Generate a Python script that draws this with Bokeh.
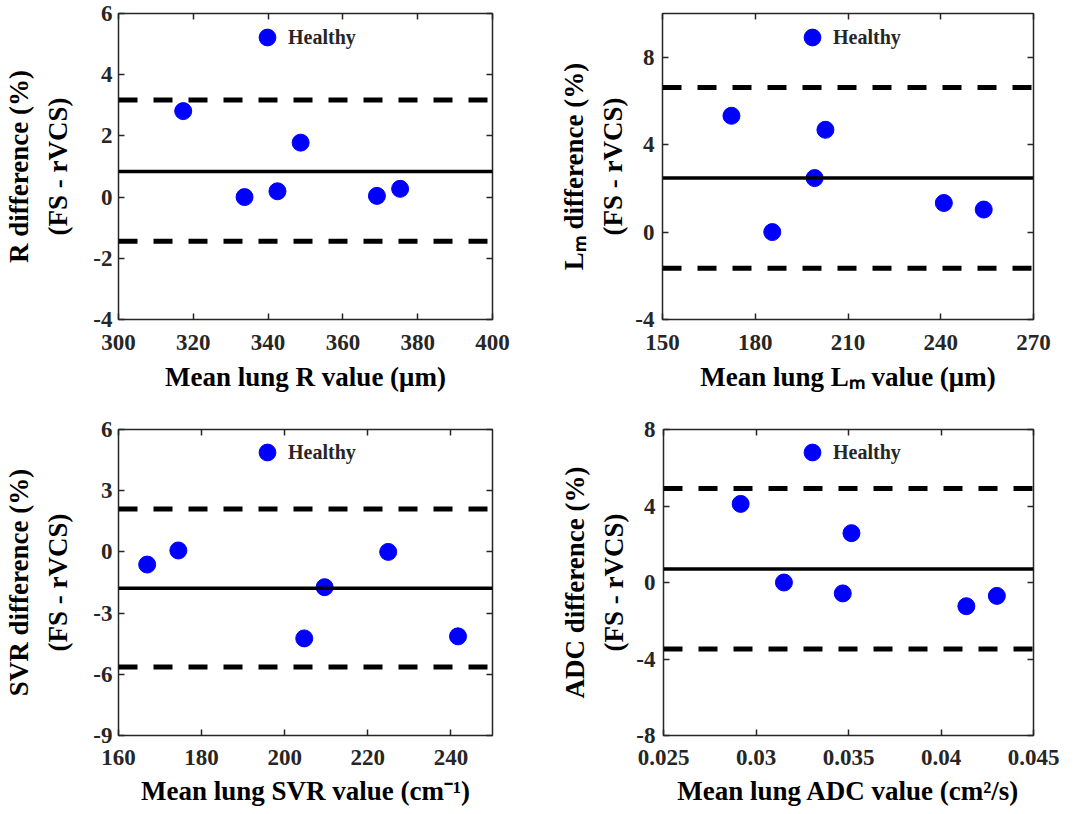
from bokeh.plotting import figure
from bokeh.models import (Range1d, FixedTicker, LinearAxis, Span, Legend, LegendItem,
                          CustomJSTickFormatter)
from bokeh.layouts import column, row
from bokeh.embed import file_html
from bokeh.resources import INLINE

# ---------------- data ----------------
group_label = "Healthy"

r_mean = [317.3, 333.7, 342.5, 348.7, 369.1, 375.3]
r_diff = [2.81, 0.00, 0.19, 1.78, 0.04, 0.27]
r_bias = 0.84
r_loa = [3.17, -1.44]
r_xticks = [300, 320, 340, 360, 380, 400]
r_xlabels = ["300", "320", "340", "360", "380", "400"]
r_yticks = [-4, -2, 0, 2, 4, 6]
r_ylabels = ["-4", "-2", "0", "2", "4", "6"]

lm_mean = [172.3, 185.5, 199.2, 202.7, 241.0, 253.9]
lm_diff = [5.32, 0.00, 2.47, 4.68, 1.33, 1.03]
lm_bias = 2.47
lm_loa = [6.62, -1.65]
lm_xticks = [150, 180, 210, 240, 270]
lm_xlabels = ["150", "180", "210", "240", "270"]
lm_yticks = [-4, 0, 4, 8]
lm_ylabels = ["-4", "0", "4", "8"]

svr_mean = [166.9, 174.4, 204.7, 209.6, 224.9, 241.7]
svr_diff = [-0.62, 0.07, -4.24, -1.73, 0.00, -4.14]
svr_bias = -1.78
svr_loa = [2.10, -5.64]
svr_xticks = [160, 180, 200, 220, 240]
svr_xlabels = ["160", "180", "200", "220", "240"]
svr_yticks = [-9, -6, -3, 0, 3, 6]
svr_ylabels = ["-9", "-6", "-3", "0", "3", "6"]

adc_mean = [0.02917, 0.03151, 0.03469, 0.03516, 0.04137, 0.04302]
adc_diff = [4.11, 0.00, -0.57, 2.58, -1.24, -0.70]
adc_bias = 0.70
adc_loa = [4.91, -3.48]
adc_xticks = [0.025, 0.03, 0.035, 0.04, 0.045]
adc_xlabels = ["0.025", "0.03", "0.035", "0.04", "0.045"]
adc_yticks = [-8, -4, 0, 4, 8]
adc_ylabels = ["-8", "-4", "0", "4", "8"]

# ---------------- style ----------------
FONT = "Liberation Serif"
AX_COL = "#262626"
BLUE = "#0000FF"


def style_axis(ax, fs="23px"):
    ax.axis_line_color = None
    ax.major_tick_line_color = AX_COL
    ax.major_tick_line_width = 1.5
    ax.major_tick_in = 6
    ax.major_tick_out = 0
    ax.minor_tick_line_color = None
    ax.major_label_text_font = FONT
    ax.major_label_text_font_style = "bold"
    ax.major_label_text_font_size = fs
    ax.major_label_text_color = AX_COL
    ax.axis_label_text_font = FONT
    ax.axis_label_text_font_style = "bold"
    ax.axis_label_text_font_size = "27px"
    ax.axis_label_text_color = "#000000"
    ax.axis_label_text_line_height = 1.3


def make_panel(xs, ys, bias, loa, xr, yr, xticks, xlabels, yticks, ylabels,
               xlabel, ylabel, w, h, bl, br, bt, bb, ystand, ylstand,
               xstand, xlstand, leg_xy):
    p = figure(width=w, height=h, x_range=Range1d(*xr), y_range=Range1d(*yr),
               output_backend="svg", toolbar_location=None,
               min_border_left=bl, min_border_right=br,
               min_border_top=bt, min_border_bottom=bb,
               background_fill_color="white", border_fill_color="white",
               outline_line_color=AX_COL, outline_line_width=1.5)
    p.grid.visible = False

    xa = p.xaxis[0]
    xa.ticker = FixedTicker(ticks=xticks)
    xa.major_label_overrides = dict(zip(xticks, xlabels))
    xa.axis_label = xlabel
    style_axis(xa)
    xa.major_label_standoff = xstand
    xa.axis_label_standoff = xlstand

    ya = p.yaxis[0]
    ya.ticker = FixedTicker(ticks=yticks)
    ya.major_label_overrides = dict(zip(yticks, ylabels))
    ya.axis_label = ylabel
    style_axis(ya)
    ya.major_label_standoff = ystand
    ya.axis_label_standoff = ylstand

    # box ticks on top and right (MATLAB style)
    top = LinearAxis(ticker=FixedTicker(ticks=xticks),
                     formatter=CustomJSTickFormatter(code="return ''"),
                     major_label_orientation="vertical", major_label_standoff=0)
    style_axis(top)
    p.add_layout(top, "above")
    right = LinearAxis(ticker=FixedTicker(ticks=yticks),
                       formatter=CustomJSTickFormatter(code="return ''"),
                       major_label_standoff=0)
    style_axis(right)
    p.add_layout(right, "right")

    p.add_layout(Span(location=bias, dimension="width", line_color="black",
                      line_width=3.5))
    for v in loa:
        p.add_layout(Span(location=v, dimension="width", line_color="black",
                          line_width=5, line_dash="19 16"))

    r = p.scatter(xs, ys, size=17, fill_color=BLUE, line_color=BLUE)

    leg = Legend(items=[LegendItem(label=group_label, renderers=[r])],
                 location=leg_xy, glyph_width=42, glyph_height=42,
                 padding=0, margin=0, spacing=0, label_standoff=0,
                 border_line_color=None, background_fill_alpha=0,
                 label_text_font=FONT, label_text_font_style="bold",
                 label_text_font_size="20px", label_text_color=AX_COL)
    p.add_layout(leg, "center")
    return p


p1 = make_panel(r_mean, r_diff, r_bias, r_loa, (300, 400), (-4, 6),
                r_xticks, r_xlabels, r_yticks, r_ylabels,
                "Mean lung R value (\u03bcm)", "R difference (%)\n(FS - rVCS)",
                541, 410, 118, 49, 13, 91, 6, 17, 15, 9, (128, 261))
p2 = make_panel(lm_mean, lm_diff, lm_bias, lm_loa, (150, 270), (-4, 10),
                lm_xticks, lm_xlabels, lm_yticks, lm_ylabels,
                "Mean lung L\u2098 value (\u03bcm)", "L\u2098 difference (%)\n(FS - rVCS)",
                544, 410, 121, 52, 13, 91, 8, 4, 15, 9, (129, 261))
p3 = make_panel(svr_mean, svr_diff, svr_bias, svr_loa, (160, 250), (-9, 6),
                svr_xticks, svr_xlabels, svr_yticks, svr_ylabels,
                "Mean lung SVR value (cm\u207b\u00b9)", "SVR difference (%)\n(FS - rVCS)",
                541, 402, 118, 49, 18, 77, 6, 17, 14, 8, (128, 262))
p4 = make_panel(adc_mean, adc_diff, adc_bias, adc_loa, (0.025, 0.045), (-8, 8),
                adc_xticks, adc_xlabels, adc_yticks, adc_ylabels,
                "Mean lung ADC value (cm\u00b2/s)", "ADC difference (%)\n(FS - rVCS)",
                544, 402, 122, 52, 19, 77, 8, 4, 14, 8, (128, 262))

layout = column(row(p1, p2), row(p3, p4))
open("out.html", "w").write(file_html(layout, INLINE))
